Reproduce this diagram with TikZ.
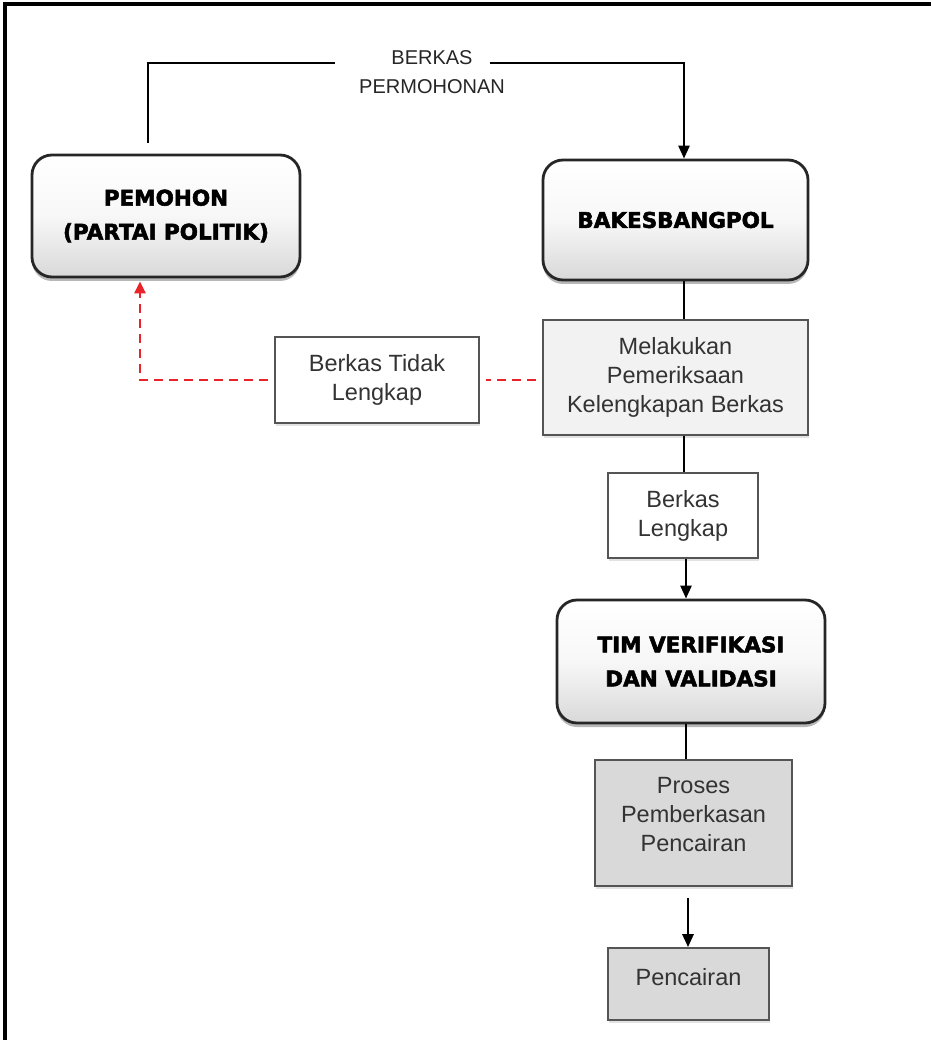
\documentclass[tikz,border=0pt]{standalone}
\usepackage{fontspec}
\setmainfont{Liberation Sans}
\newfontfamily\titlefont{DejaVu Sans}[BoldFeatures={FakeBold=2.5}]
\usetikzlibrary{arrows.meta,shadows,calc}
\definecolor{boxline}{HTML}{555555}
\definecolor{txtgray}{HTML}{333333}
\definecolor{redline}{HTML}{E8242A}
\tikzset{
  titlebox/.style={draw=black!85, line width=2.8pt, rounded corners=20pt,
    top color=white, bottom color=gray!30, middle color=white!94!gray,
    drop shadow={shadow xshift=0pt, shadow yshift=-4pt, fill=gray!70, opacity=0.8},
    align=center, font=\titlefont\bfseries\fontsize{21.5}{34}\selectfont, inner sep=0pt},
  plainbox/.style={draw=boxline, line width=1.6pt, align=center, text=txtgray,
    font=\fontsize{23.5}{29}\selectfont, inner sep=0pt,
    drop shadow={shadow xshift=1pt, shadow yshift=-3pt, fill=gray!45}},
  conn/.style={line width=2.6pt, black},
  arr/.style={conn, -{Triangle[length=13pt,width=11pt]}},
  redarr/.style={line width=2.4pt, redline, dash pattern=on 9pt off 6pt,
    -{Triangle[length=12pt,width=11pt]}},
  reddash/.style={line width=2.4pt, redline, dash pattern=on 9pt off 6pt}
}
\begin{document}
\begin{tikzpicture}[x=1pt,y=-1pt]
\useasboundingbox (0,0) rectangle (931,1040);
\fill[white] (0,0) rectangle (931,1040);
% frame
\draw[line width=4pt] (5,1040) -- (5,4) -- (931,4);

% nodes
\node[titlebox, minimum width=268pt, minimum height=122pt] (pemohon) at (166,216) {PEMOHON\\(PARTAI POLITIK)};
\node[titlebox, minimum width=265pt, minimum height=120pt] (bakes) at (675.5,220) {BAKESBANGPOL};
\node[plainbox, fill=gray!10, minimum width=265pt, minimum height=115pt] (melak) at (675.5,377.5) {Melakukan\\Pemeriksaan\\Kelengkapan Berkas};
\node[plainbox, fill=white, minimum width=204pt, minimum height=86pt] (tidak) at (377,380) {Berkas Tidak\\Lengkap};
\node[plainbox, fill=white, minimum width=150pt, minimum height=85pt] (lengkap) at (683,515.5) {Berkas\\Lengkap};
\node[titlebox, minimum width=268pt, minimum height=123pt] (tim) at (691,661.5) {TIM VERIFIKASI\\DAN VALIDASI};
\node[plainbox, fill=gray!30, minimum width=197pt, minimum height=126pt] (proses) at (693.5,823) {Proses\\Pemberkasan\\Pencairan\\[-12pt]\mbox{}};
\node[plainbox, fill=gray!30, minimum width=161pt, minimum height=72pt] (pencairan) at (688.5,984) {Pencairan\\[-14pt]\mbox{}};

\node[font=\fontsize{20}{29}\selectfont, text=black!85, align=center, inner sep=0pt] (lbl) at (432,72) {BERKAS\\PERMOHONAN};

% connector coordinates
\coordinate (s) at (148,143);
\coordinate (tl) at (148,63);
\coordinate (la) at (335,63);
\coordinate (lb) at (490,63);
\coordinate (c1) at (684,0);
\coordinate (c2) at (686,0);
\coordinate (c3) at (688,0);
\coordinate (rx) at (140,0);

% top connector
\draw[conn] (s) -- (tl) -- (la);
\draw[arr] (lb) -| (bakes.north -| c1);

% vertical chain
\draw[conn] (bakes.south -| c1) -- (melak.north -| c1);
\draw[conn] (melak.south -| c1) -- (lengkap.north -| c1);
\draw[arr] (lengkap.south -| c2) -- (tim.north -| c2);
\draw[conn] (tim.south -| c2) -- (proses.north -| c2);
\draw[arr] ([yshift=-11pt]proses.south -| c3) -- (pencairan.north -| c3);

% red dashed return
\draw[reddash] ([xshift=-6pt]melak.west |- tidak.east) -- ([xshift=6pt]tidak.east);
\draw[redarr] ([xshift=-6pt]tidak.west) -| ([yshift=-3pt]pemohon.south -| rx);
\end{tikzpicture}
\end{document}
